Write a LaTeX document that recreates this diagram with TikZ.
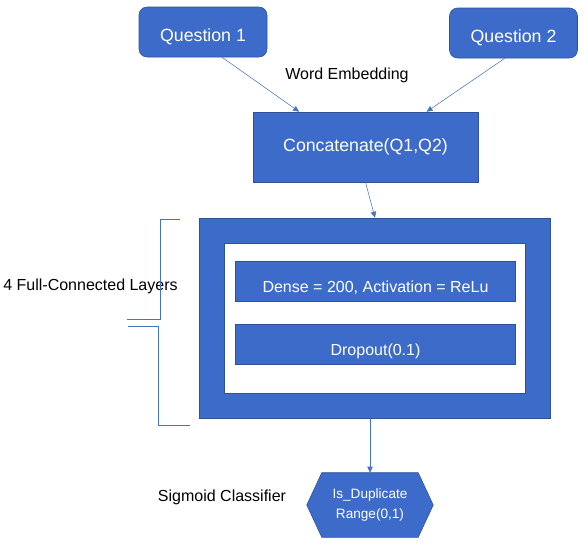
\documentclass[tikz,border=0pt]{standalone}
\usepackage{fontspec}
\setmainfont{Liberation Sans}
\usepackage{tikz}
\usetikzlibrary{arrows.meta, positioning, calc, backgrounds}
\definecolor{boxColor}{RGB}{61,107,201}
\definecolor{edgeColor}{RGB}{47,82,150}
\definecolor{lineColor}{RGB}{68,114,196}

\begin{document}
\begin{tikzpicture}[
        x=0.75pt, y=-0.75pt,
        box/.style={rectangle, draw=edgeColor, fill=boxColor, text=white, inner sep=0pt, minimum width=168.75pt, minimum height=52.5pt, align=center, font=\fontsize{13.3}{16}\selectfont},
        qbox/.style={box, rounded corners=6pt, minimum width=96pt, minimum height=37.5pt, text height=14pt, text depth=0pt},
        layer/.style={box, minimum width=210pt, minimum height=30pt, text height=17pt, text depth=0pt, font=\fontsize{12}{14}\selectfont},
        note/.style={inner sep=0pt, font=\fontsize{12}{14}\selectfont},
        arrow/.style={-{Triangle[length=4.5pt, width=4pt]}, draw=lineColor, thin}
    ]
        \useasboundingbox (0,0) rectangle (588,544);

        % Inputs
        \node[qbox] (q1) at (203,32) {Question 1};
        \node[qbox] (q2) at (513.5,33) {Question 2};
        \node[note] (embed) at (347,75) {Word Embedding};

        % Concatenation
        \node[box] (concat) at (365.5,147) {Concatenate(Q1,Q2)};

        % Fully connected block
        \node[box, minimum width=263.25pt, minimum height=150pt] (fc) at (375,318) {};
        \node[rectangle, draw=edgeColor, fill=white, minimum width=225.75pt, minimum height=112.5pt] (fcinner) at (374.5,318) {};
        \node[layer] (dense) at (375.5,281) {Dense = 200, Activation = ReLu};
        \node[layer, below=17.25pt of dense] (dropout) {Dropout(0.1)};
        \node[note] (fclabel) at (90.5,286) {4 Full-Connected Layers};

        % Classifier
        \node[note, text=white, align=center, minimum width=72pt, minimum height=48pt, font=\fontsize{10.2}{15}\selectfont] (sig) at (370,505) {Is\_Duplicate\\Range(0,1)};
        \begin{scope}[on background layer]
            \draw[draw=edgeColor, fill=boxColor] (sig.north west) -- (sig.north east) -- ($(sig.east)+(15,0)$) -- (sig.south east) -- (sig.south west) -- ($(sig.west)-(15,0)$) -- cycle;
        \end{scope}
        \node[note] (sigmoid) at (222,497) {Sigmoid Classifier};

        % Arrows
        \draw[arrow] (q1.-53) -- (concat.152);
        \draw[arrow] (q2.-109) -- (concat.30);
        \draw[arrow] (concat.south) -- (fc.north);
        \draw[arrow] (fc.south -| sig.north) -- (sig.north);

        % Bracket
        \draw[lineColor] (180,219) -- (160,219) -- (160,319) -- (127,319);
        \draw[lineColor] (128,326) -- (158,326) -- (158,425) -- (190,425);
    \end{tikzpicture}
\end{document}
